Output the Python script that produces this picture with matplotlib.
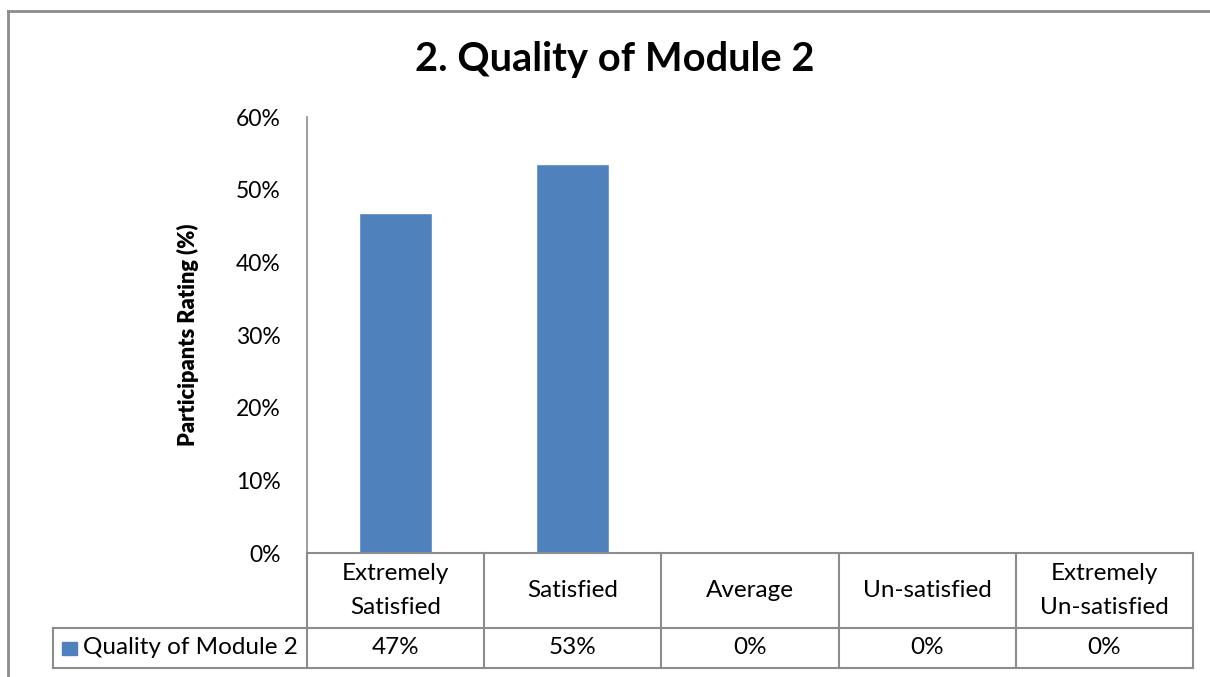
import matplotlib.pyplot as plt
from matplotlib.lines import Line2D
from matplotlib.patches import Rectangle
import matplotlib.transforms as mtransforms

# Chart data
categories = ["Extremely\nSatisfied", "Satisfied", "Average", "Un-satisfied",
              "Extremely\nUn-satisfied"]
values = [46.67, 53.33, 0, 0, 0]
valueLabels = ["47%", "53%", "0%", "0%", "0%"]
seriesName = "Quality of Module 2"
yTicks = [0, 10, 20, 30, 40, 50, 60]

barColor = "#4F81BD"
lineColor = "#8C8C8C"

plt.rcParams["font.family"] = ["Lato", "DejaVu Sans"]

W, H = 1210, 677
fig = plt.figure(figsize=(W / 100, H / 100), dpi=100)

# Axes placed in pixel terms
left, right, top, bottom = 307, 1193, 117, 553
ax = fig.add_axes([left / W, 1 - bottom / H, (right - left) / W, (bottom - top) / H])

x = list(range(len(categories)))
ax.bar(x, values, width=0.4, color=barColor, edgecolor="#5A8AC6", linewidth=0.5)
ax.set_xlim(-0.5, len(categories) - 0.5)
ax.set_ylim(0, 60)
ax.set_yticks(yTicks)
ax.set_yticklabels([f"{t}%" for t in yTicks], fontsize=16.5)
ax.tick_params(axis="y", length=0, pad=19)
ax.set_xticks([])
for s in ["top", "right", "bottom"]:
    ax.spines[s].set_visible(False)
ax.spines["left"].set_color(lineColor)
ax.spines["left"].set_linewidth(1.2)

ax.set_ylabel("Participants Rating (%)", fontsize=15.7, fontweight="heavy")
ax.yaxis.set_label_coords(-(307 - 199) / (right - left), 0.5)

# Data table below the axes
trans = mtransforms.blended_transform_factory(ax.transData, ax.transAxes)
axH = bottom - top
y0 = 0.0
y1 = -(628 - bottom) / axH
y2 = -(668 - bottom) / axH
xL = -0.5
xR = len(categories) - 0.5
xLeg = -0.5 - (307 - 53) / 177.2

def hline(xa, xb, y):
    ax.add_line(Line2D([xa, xb], [y, y], transform=trans, color=lineColor,
                       linewidth=1.5, clip_on=False))

def vline(xx, ya, yb):
    ax.add_line(Line2D([xx, xx], [ya, yb], transform=trans, color=lineColor,
                       linewidth=1.5, clip_on=False))

hline(xL, xR, y0)
hline(xLeg, xR, y1)
hline(xLeg, xR, y2)
for i in range(len(categories) + 1):
    vline(i - 0.5, y0, y2)
vline(xLeg, y1, y2)

for i, (c, v) in enumerate(zip(categories, valueLabels)):
    ax.text(i, (y0 + y1) / 2, c, transform=trans, ha="center", va="center",
            fontsize=17.5, linespacing=1.75)
    ax.text(i, (y1 + y2) / 2, v, transform=trans, ha="center", va="center",
            fontsize=17.5)

# legend key in the table
keyTrans = mtransforms.blended_transform_factory(fig.transFigure, ax.transAxes)
keyH = 13 / axH
ax.add_patch(Rectangle((62 / W, (y1 + y2) / 2 - keyH / 2), 15 / W, keyH,
                       transform=keyTrans, color=barColor, clip_on=False))
ax.text(83 / W, (y1 + y2) / 2, seriesName, transform=keyTrans, ha="left",
        va="center", fontsize=17.5)

# Title
fig.text(615 / W, 1 - 60 / H, "2. Quality of Module 2", ha="center", va="center",
         fontsize=28.7, fontweight="bold")

# Outer chart frame (top and left edges visible)
fig.add_artist(Line2D([8 / W, 1], [1 - 11 / H, 1 - 11 / H], transform=fig.transFigure,
                      color=lineColor, linewidth=2))
fig.add_artist(Line2D([8 / W, 8 / W], [0, 1 - 11 / H], transform=fig.transFigure,
                      color=lineColor, linewidth=2))

fig.savefig("out.png", dpi=100)
